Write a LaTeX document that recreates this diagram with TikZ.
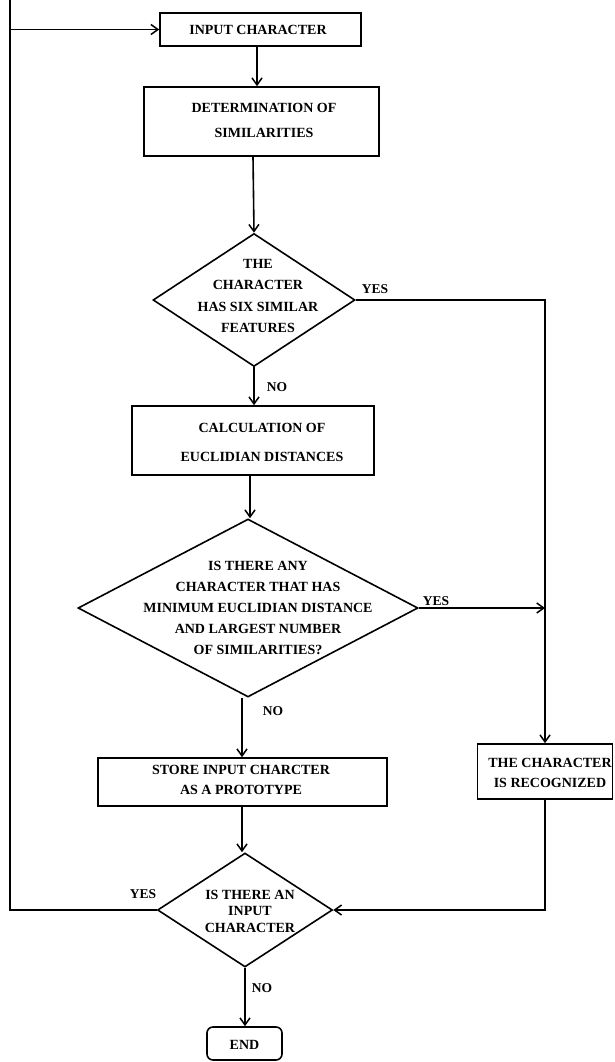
\documentclass[tikz,border=0pt]{standalone}
\usepackage{fontspec}
\setmainfont{Liberation Serif}
\usetikzlibrary{arrows.meta,shapes.geometric}
\begin{document}
\begin{tikzpicture}[x=1pt,y=-1pt,
  line width=1.6pt,
  box/.style={draw, rectangle, inner sep=0pt},
  dia/.style={draw, diamond, inner sep=0pt},
  txt/.style={align=center, inner sep=0pt, font=\fontsize{14}{20}\selectfont\bfseries},
  lbl/.style={inner sep=0pt, font=\fontsize{13.5}{16}\selectfont\bfseries},
  arr/.style={-{Straight Barb[length=7pt,width=10pt,line width=1.5pt]}}]
\useasboundingbox (0,0) rectangle (614,1062);
% shapes
\node[box, minimum width=201pt, minimum height=33pt] (in) at (260.5,29.5) {};
\node[box, minimum width=235pt, minimum height=69pt] (det) at (261.5,121.5) {};
\node[dia, minimum width=202pt, minimum height=133pt] (d1) at (254,300) {};
\node[box, minimum width=242pt, minimum height=69pt] (calc) at (253,440.5) {};
\node[dia, minimum width=340pt, minimum height=178pt] (d2) at (248,608) {};
\node[box, minimum width=289pt, minimum height=48pt] (store) at (242.5,782) {};
\node[box, minimum width=135pt, minimum height=55pt] (rec) at (545,771.5) {};
\node[dia, minimum width=175pt, minimum height=114pt] (d3) at (245,910) {};
\node[box, rounded corners=6pt, minimum width=75pt, minimum height=33pt] (end) at (244.5,1043.5) {};
% texts
\node[txt] (tin) at (258,30) {INPUT CHARACTER};
\node[txt, font=\fontsize{14}{25}\selectfont\bfseries] (tdet) at (264,120) {DETERMINATION OF\\SIMILARITIES};
\node[txt, font=\fontsize{14}{21.5}\selectfont\bfseries] (td1) at (258,296) {THE\\CHARACTER\\HAS SIX SIMILAR\\FEATURES};
\node[txt, font=\fontsize{14}{29}\selectfont\bfseries] (tcalc) at (262,442) {CALCULATION OF\\EUCLIDIAN DISTANCES};
\node[txt, font=\fontsize{14}{21}\selectfont\bfseries] (td2) at (258,608) {IS THERE ANY\\CHARACTER THAT HAS\\MINIMUM EUCLIDIAN DISTANCE\\AND LARGEST NUMBER\\OF SIMILARITIES?};
\node[txt] (tstore) at (241,780) {STORE INPUT CHARCTER\\AS A PROTOTYPE};
\node[txt] (trec) at (550,773) {THE CHARACTER\\IS RECOGNIZED};
\node[txt, font=\fontsize{14}{16.5}\selectfont\bfseries] (td3) at (250,911) {IS THERE AN\\INPUT\\CHARACTER};
\node[txt] (tend) at (244.5,1045) {END};
% labels
\node[lbl] (yes1) at (375,289) {YES};
\node[lbl] (no1) at (277,387) {NO};
\node[lbl] (yes2) at (436,601) {YES};
\node[lbl] (no2) at (273,711) {NO};
\node[lbl] (yes3) at (143,894) {YES};
\node[lbl] (no3) at (262,988) {NO};
% helper coordinates
\coordinate (xa) at (257,0);
\coordinate (xb) at (253,0);
\coordinate (xc) at (250,0);
\coordinate (xd) at (242,0);
\coordinate (xl) at (10,0);
% connectors
\draw[arr] (in.south -| xa) -- (det.north -| xa);
\draw[arr] (det.south -| xb) -- (d1.north);
\draw[arr] (d1.south) -- (calc.north -| d1.south);
\draw[arr] (calc.south -| xc) -- (d2.north -| xc);
\draw[arr] (d2.south -| xd) -- (store.north -| xd);
\draw[arr] (store.south -| xd) -- (d3.north -| xd);
\draw[arr] (d3.south) -- (end.north -| d3.south);
\draw[arr] (d1.east) -| (rec.north);
\draw[arr] (d2.east) -- (d2.east -| rec.north);
\draw[arr] (rec.south) |- (d3.east);
\draw[arr] (d3.west) -| (xl) |- (in.west);
\end{tikzpicture}
\end{document}
